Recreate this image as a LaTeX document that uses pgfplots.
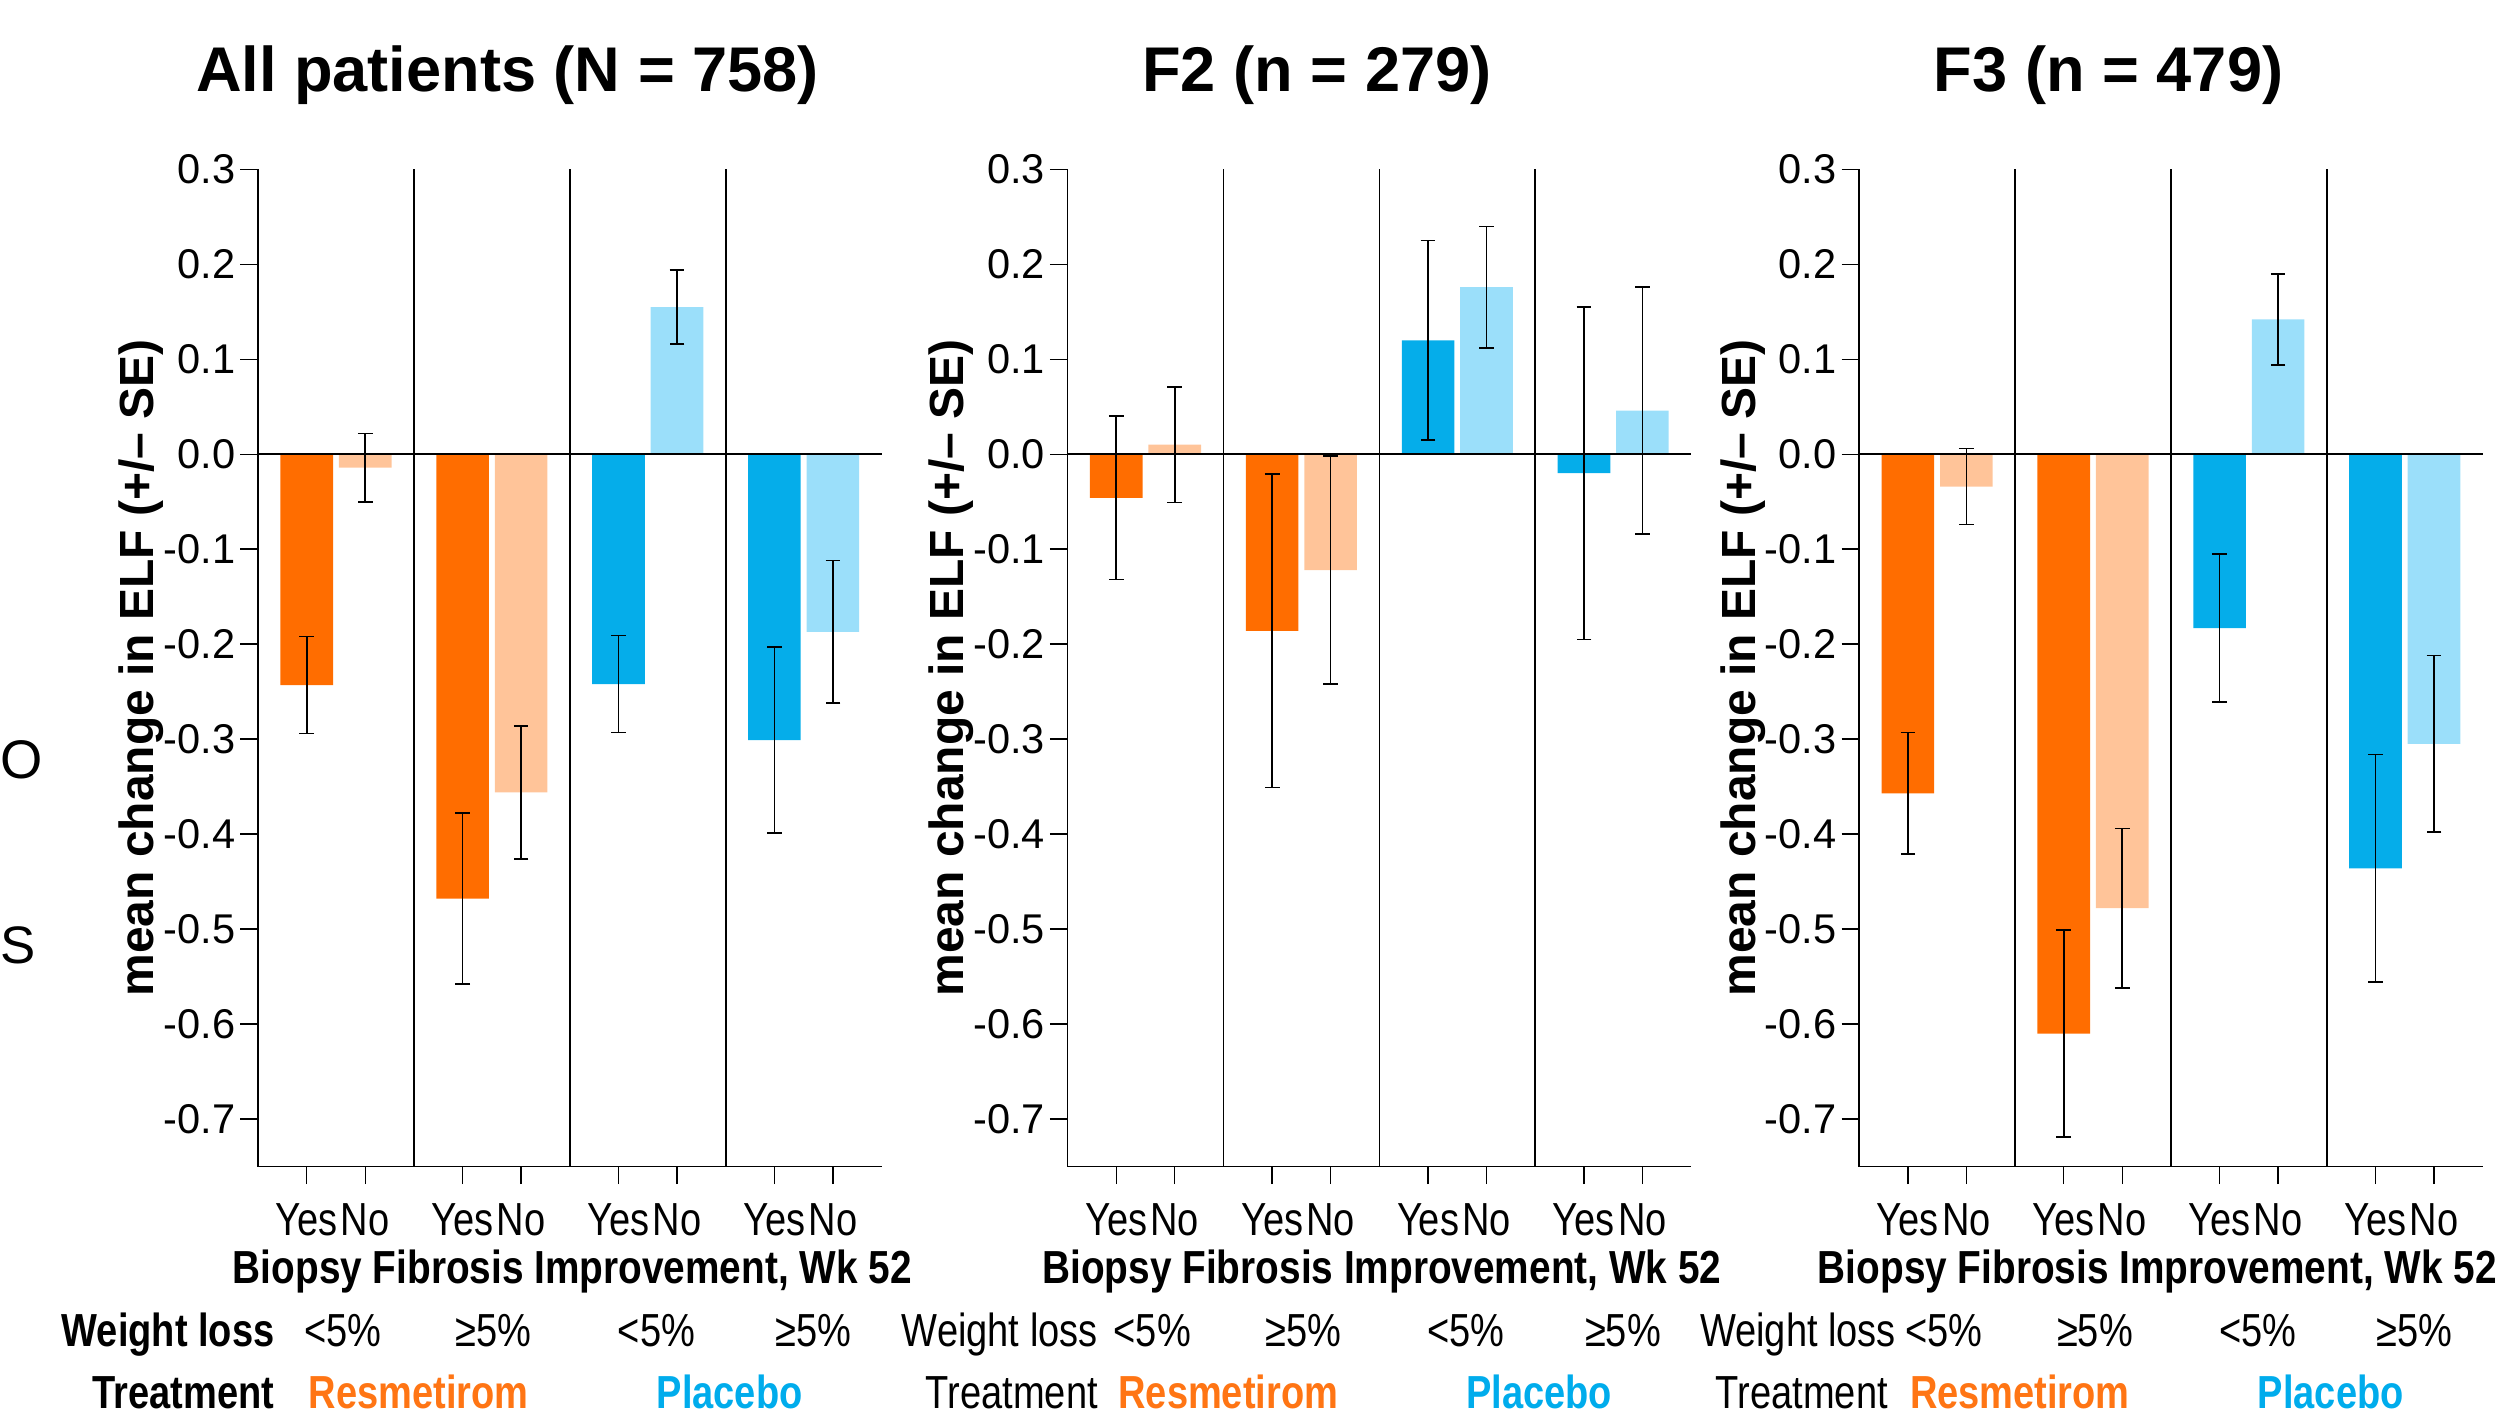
\documentclass[border=0pt]{standalone}
\usepackage{fontspec}
\setmainfont{Liberation Sans}
\newfontfamily\condfont{Liberation Sans}[FakeStretch=0.82]
\usepackage{pgfplots}
\pgfplotsset{compat=1.18}

\definecolor{resdark}{RGB}{255,109,0}
\definecolor{reslight}{RGB}{255,196,153}
\definecolor{pladark}{RGB}{5,173,234}
\definecolor{plalight}{RGB}{155,223,250}
\definecolor{restext}{RGB}{255,117,20}
\definecolor{platext}{RGB}{0,172,236}

\newcommand\condsize{\condfont\fontsize{14.5}{14.5}\selectfont}

% text rows under each panel: #1 font of the row names, #2/#3 right edge of "Weight loss"/"Treatment",
% #4 centre of the "Biopsy ..." line
\newcommand\lowerrows[4]{%
  \node[anchor=base, inner sep=0pt, font=\condsize\bfseries, xscale=1.02] at (axis cs:#4,-0.8736) {Biopsy Fibrosis Improvement, Wk 52};
  \node[anchor=base east, inner sep=0pt, font=#1] at (axis cs:#2,-0.9392) {Weight loss};
  \node[anchor=base east, inner sep=0pt, font=#1] at (axis cs:#3,-1.0046) {Treatment};
  \node[anchor=base, inner sep=0pt, font=\condsize] at (axis cs:4.35,-0.9392) {<5\%};
  \node[anchor=base, inner sep=0pt, font=\condsize] at (axis cs:12.1,-0.9392) {≥5\%};
  \node[anchor=base, inner sep=0pt, font=\condsize] at (axis cs:20.45,-0.9392) {<5\%};
  \node[anchor=base, inner sep=0pt, font=\condsize] at (axis cs:28.5,-0.9392) {≥5\%};
  \node[anchor=base, inner sep=0pt, font=\condsize\bfseries, text=restext] at (axis cs:8.25,-1.0046) {Resmetirom};
  \node[anchor=base, inner sep=0pt, font=\condsize\bfseries, text=platext] at (axis cs:24.2,-1.0046) {Placebo};
}

% separators between the four groups and the zero line
\newcommand\panelframe{%
  \draw[line width=0.5pt] (axis cs:0,0) -- (axis cs:32,0);
  \draw[line width=0.5pt] (axis cs:8,-0.75) -- (axis cs:8,0.3);
  \draw[line width=0.5pt] (axis cs:16,-0.75) -- (axis cs:16,0.3);
  \draw[line width=0.5pt] (axis cs:24,-0.75) -- (axis cs:24,0.3);
}

\pgfplotsset{
  elfpanel/.style={
    scale only axis, width=195pt, height=311.85pt,
    anchor=south west, clip=false,
    xmin=0, xmax=32, ymin=-0.75, ymax=0.3,
    axis x line*=bottom, axis y line*=left,
    axis line style={line width=0.5pt, -},
    tick align=outside, major tick length=5.5pt,
    tick style={line width=0.45pt, black},
    xtick={2.5,5.5,10.5,13.5,18.5,21.5,26.5,29.5},
    xticklabels={Yes,No,Yes,No,Yes,No,Yes,No},
    xticklabel style={font=\condsize, anchor=base, yshift=-16pt},
    ytick={-0.7,-0.6,-0.5,-0.4,-0.3,-0.2,-0.1,0,0.1,0.2,0.3},
    yticklabels={-0.7,-0.6,-0.5,-0.4,-0.3,-0.2,-0.1,0.0,0.1,0.2,0.3},
    yticklabel style={font=\fontsize{13}{13}\selectfont, inner sep=0pt, xshift=-1.4pt},
    ylabel={mean change in ELF (+/– SE)},
    ylabel style={font=\bfseries\fontsize{15}{15}\selectfont, at={(axis description cs:-0.167,0.5)}, anchor=base, inner sep=0pt},
    title style={font=\bfseries\fontsize{19.75}{19.75}\selectfont, at={(axis description cs:0.40,1.0592)}, anchor=base, inner sep=0pt},
    ybar, bar width=2.7, bar shift=0pt,
    every axis plot/.append style={draw=none},
    error bars/y dir=both, error bars/y explicit,
    error bars/error bar style={line width=0.5pt, black},
    error bars/error mark options={rotate=90, mark size=2.3pt, line width=0.5pt, black},
  },
}

\begin{document}
\begin{tikzpicture}
\useasboundingbox (0,0) rectangle (784pt,444.5pt);

% letters at the left edge of the slide
\node[anchor=base west, inner sep=0pt, font=\fontsize{17}{17}\selectfont] at (0pt,201pt) {O};
\node[anchor=base west, inner sep=0pt, font=\fontsize{16.5}{16.5}\selectfont] at (0pt,143.25pt) {S};

% ---- All patients ----
\begin{axis}[elfpanel, at={(80.7pt,79.7pt)}, title={All patients (N = 758)}]
\addplot[fill=resdark] coordinates {(2.5,-0.243) +- (0,0.051) (10.5,-0.468) +- (0,0.090)};
\addplot[fill=reslight] coordinates {(5.5,-0.014) +- (0,0.036) (13.5,-0.356) +- (0,0.070)};
\addplot[fill=pladark] coordinates {(18.5,-0.242) +- (0,0.051) (26.5,-0.301) +- (0,0.098)};
\addplot[fill=plalight] coordinates {(21.5,0.155) +- (0,0.039) (29.5,-0.187) +- (0,0.075)};
\panelframe
\lowerrows{\condsize\bfseries}{0.87}{0.87}{16.13}
\end{axis}

% ---- F2 ----
\begin{axis}[elfpanel, at={(333.85pt,79.7pt)}, title={F2 (n = 279)}]
\addplot[fill=resdark] coordinates {(2.5,-0.046) +- (0,0.086) (10.5,-0.186) +- (0,0.165)};
\addplot[fill=reslight] coordinates {(5.5,0.010) +- (0,0.061) (13.5,-0.122) +- (0,0.120)};
\addplot[fill=pladark] coordinates {(18.5,0.120) +- (0,0.105) (26.5,-0.020) +- (0,0.175)};
\addplot[fill=plalight] coordinates {(21.5,0.176) +- (0,0.064) (29.5,0.046) +- (0,0.130)};
\panelframe
\lowerrows{\condsize}{1.58}{1.58}{16.13}
\end{axis}

% ---- F3 ----
\begin{axis}[elfpanel, at={(581.4pt,79.7pt)}, title={F3 (n = 479)}]
\addplot[fill=resdark] coordinates {(2.5,-0.357) +- (0,0.064) (10.5,-0.610) +- (0,0.109)};
\addplot[fill=reslight] coordinates {(5.5,-0.034) +- (0,0.040) (13.5,-0.478) +- (0,0.084)};
\addplot[fill=pladark] coordinates {(18.5,-0.183) +- (0,0.078) (26.5,-0.436) +- (0,0.120)};
\addplot[fill=plalight] coordinates {(21.5,0.142) +- (0,0.048) (29.5,-0.305) +- (0,0.093)};
\panelframe
\lowerrows{\condsize}{1.92}{1.5}{15.3}
\end{axis}
\end{tikzpicture}
\end{document}
